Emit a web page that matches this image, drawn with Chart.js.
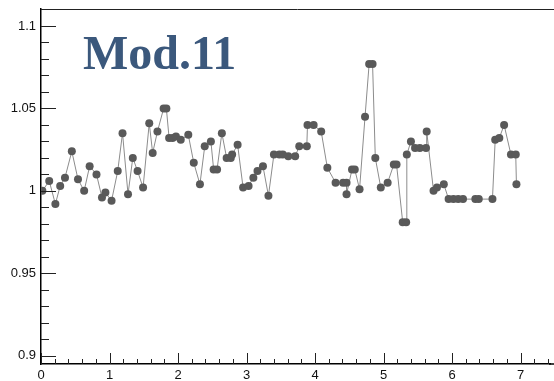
<!DOCTYPE html>
<html>
<head>
<meta charset="utf-8">
<script src="https://cdn.jsdelivr.net/npm/chart.js@4.4.0/dist/chart.umd.min.js"></script>
<style>
  html, body { margin: 0; padding: 0; background: #fff; }
  #wrap { width: 554px; height: 381px; }
</style>
</head>
<body>
<div id="wrap"><canvas id="grafico"></canvas></div>
<script>
// valores
const xVals = [0.02, 0.12, 0.21, 0.28, 0.35, 0.45, 0.54, 0.63, 0.71, 0.81,
  0.89, 0.94, 1.03, 1.12, 1.19, 1.27, 1.34, 1.41, 1.49, 1.58,
  1.63, 1.70, 1.79, 1.83, 1.87, 1.92, 1.97, 2.04, 2.15, 2.23,
  2.32, 2.39, 2.48, 2.52, 2.57, 2.64, 2.71, 2.77, 2.79, 2.87,
  2.95, 3.03, 3.10, 3.16, 3.24, 3.32, 3.40, 3.48, 3.53, 3.61,
  3.71, 3.77, 3.88, 3.89, 3.98, 4.09, 4.18, 4.30, 4.41, 4.46,
  4.46, 4.54, 4.58, 4.65, 4.73, 4.79, 4.84, 4.88, 4.96, 5.06,
  5.15, 5.19, 5.28, 5.33, 5.34, 5.40, 5.46, 5.53, 5.62, 5.63,
  5.73, 5.78, 5.88, 5.95, 6.02, 6.09, 6.16, 6.34, 6.39, 6.59,
  6.63, 6.69, 6.76, 6.86, 6.93, 6.94];
const yVals = [1.000, 1.006, 0.992, 1.003, 1.008, 1.024, 1.007, 1.000, 1.015, 1.010,
  0.996, 0.999, 0.994, 1.012, 1.035, 0.998, 1.020, 1.012, 1.002, 1.041,
  1.023, 1.036, 1.050, 1.050, 1.032, 1.032, 1.033, 1.031, 1.034, 1.017,
  1.004, 1.027, 1.030, 1.013, 1.013, 1.035, 1.020, 1.020, 1.022, 1.028,
  1.002, 1.003, 1.008, 1.012, 1.015, 0.997, 1.022, 1.022, 1.022, 1.021,
  1.021, 1.027, 1.027, 1.040, 1.040, 1.036, 1.014, 1.005, 1.005, 1.005,
  0.998, 1.013, 1.013, 1.001, 1.045, 1.077, 1.077, 1.020, 1.002, 1.005,
  1.016, 1.016, 0.981, 0.981, 1.022, 1.030, 1.026, 1.026, 1.026, 1.036,
  1.000, 1.002, 1.004, 0.995, 0.995, 0.995, 0.995, 0.995, 0.995, 0.995,
  1.031, 1.032, 1.040, 1.022, 1.022, 1.004];
const xTicks = [0, 1, 2, 3, 4, 5, 6, 7];
const yTicks = [0.9, 0.95, 1, 1.05, 1.1];
const titulo = 'Mod.11';

const puntos = xVals.map((x, i) => ({ x: x, y: yVals[i] }));

// marcas de los ejes hacia dentro, estilo ROOT
const marcasEjes = {
  id: 'marcasEjes',
  afterDraw(chart) {
    const { ctx, chartArea: a, scales: { x, y } } = chart;
    ctx.save();
    ctx.strokeStyle = '#222';
    ctx.lineWidth = 1;
    // linea superior, hasta el borde del lienzo
    ctx.beginPath();
    ctx.moveTo(a.left, a.top + 0.5);
    ctx.lineTo(chart.width, a.top + 0.5);
    ctx.stroke();
    // el eje x tambien sigue hasta el borde
    ctx.save();
    ctx.strokeStyle = '#000';
    ctx.lineWidth = 1.5;
    ctx.beginPath();
    ctx.moveTo(a.right - 1, a.bottom);
    ctx.lineTo(chart.width, a.bottom);
    ctx.stroke();
    ctx.restore();
    // eje y
    for (let v = 0.9; v <= 1.1101; v += 0.01) {
      const py = Math.round(y.getPixelForValue(v)) + 0.5;
      const mayor = yTicks.some(t => Math.abs(t - v) < 1e-6);
      ctx.beginPath();
      ctx.moveTo(a.left, py);
      ctx.lineTo(a.left + (mayor ? 15 : 8), py);
      ctx.stroke();
    }
    // eje x
    for (let v = 0; v <= 7.41; v += 0.2) {
      const px = Math.round(x.getPixelForValue(v)) + 0.5;
      const mayor = xTicks.some(t => Math.abs(t - v) < 1e-6);
      ctx.beginPath();
      ctx.moveTo(px, a.bottom);
      ctx.lineTo(px, a.bottom - (mayor ? 11 : 5));
      ctx.stroke();
    }
    // titulo
    ctx.fillStyle = '#3b587c';
    ctx.font = 'bold 48px "Liberation Serif", "DejaVu Serif", serif';
    ctx.textBaseline = 'alphabetic';
    ctx.textAlign = 'left';
    ctx.fillText(titulo, 83, 69);
    ctx.restore();
  }
};

const fuente = { family: '"Liberation Sans", Arial, sans-serif', size: 13 };

// quita el relleno que Chart.js reserva para las etiquetas extremas
function sinRelleno(s) {
  s.paddingTop = 0;
  s.paddingBottom = 0;
  s.paddingLeft = 0;
  s.paddingRight = 0;
}

new Chart(document.getElementById('grafico').getContext('2d'), {
  type: 'scatter',
  data: {
    datasets: [{
      data: puntos,
      showLine: true,
      borderColor: '#8c8c8c',
      borderWidth: 1,
      pointRadius: 4,
      pointBorderWidth: 0,
      pointBackgroundColor: '#595959',
      pointHoverRadius: 4
    }]
  },
  options: {
    animation: false,
    responsive: true,
    maintainAspectRatio: false,
    layout: { padding: { top: 9, right: 0, left: 0, bottom: 0 } },
    plugins: { legend: { display: false }, tooltip: { enabled: false } },
    scales: {
      x: {
        type: 'linear',
        min: 0,
        max: 7.43,
        afterBuildTicks: s => { s.ticks = xTicks.map(v => ({ value: v })); },
        afterFit: s => { s.height = 17; sinRelleno(s); },
        grid: { display: false, drawTicks: false, tickLength: 0 },
        border: { display: true, color: '#000', width: 1.5 },
        ticks: { color: '#111', font: fuente, padding: 4, maxRotation: 0, callback: v => String(v) }
      },
      y: {
        min: 0.895,
        max: 1.1103,
        afterBuildTicks: s => { s.ticks = yTicks.map(v => ({ value: v })); },
        afterFit: s => { s.width = 41; sinRelleno(s); },
        grid: { display: false, drawTicks: false, tickLength: 0 },
        border: { display: true, color: '#000', width: 1.5 },
        ticks: { color: '#111', font: fuente, padding: 5, callback: v => String(v) }
      }
    }
  },
  plugins: [marcasEjes]
});
</script>
</body>
</html>
